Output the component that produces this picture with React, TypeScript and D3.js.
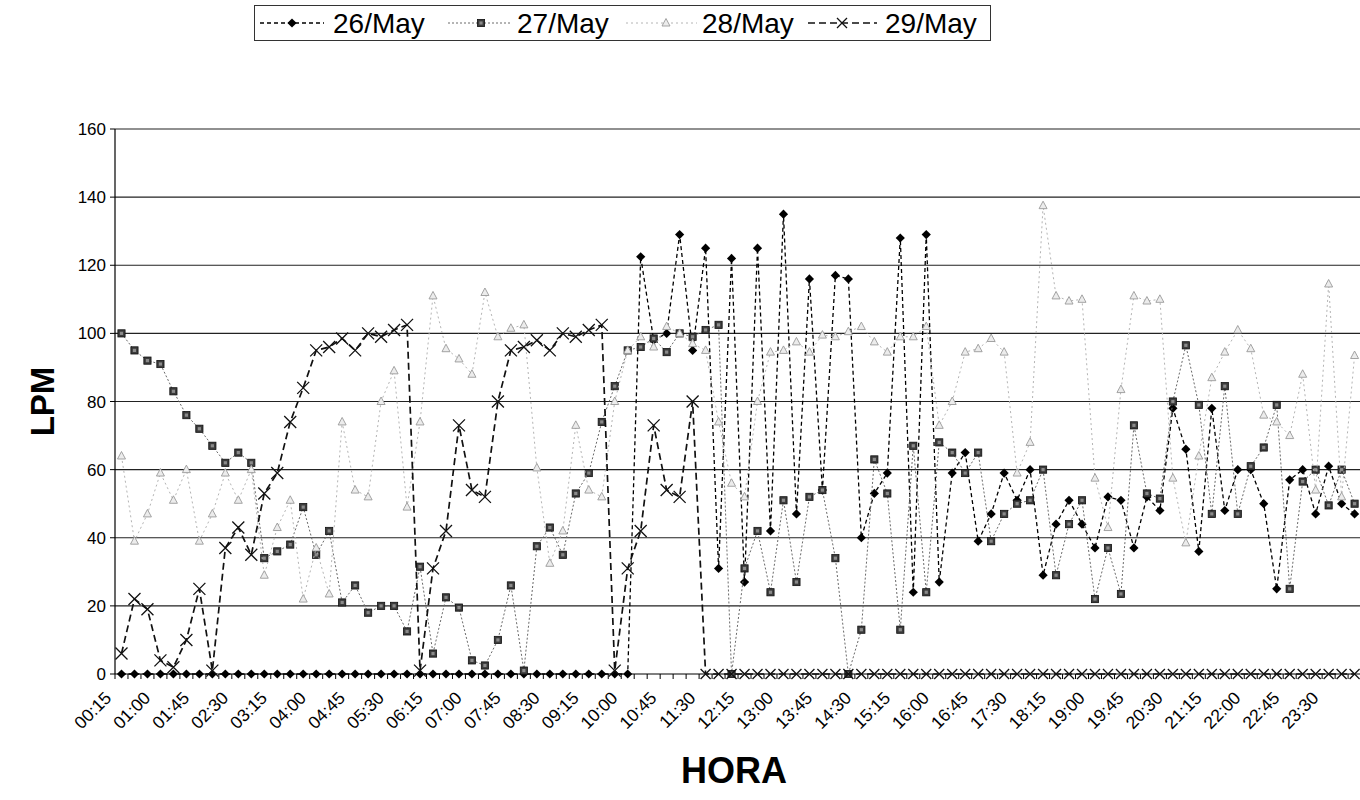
import * as d3 from "d3";

const WIDTH = 1360;
const HEIGHT = 800;
const PLOT = { left: 115, top: 129, bottom: 674, step: 12.98 };

const TIMES = [
  "00:15", "00:30", "00:45", "01:00", "01:15", "01:30", "01:45", "02:00", "02:15", "02:30", "02:45", "03:00",
  "03:15", "03:30", "03:45", "04:00", "04:15", "04:30", "04:45", "05:00", "05:15", "05:30", "05:45", "06:00",
  "06:15", "06:30", "06:45", "07:00", "07:15", "07:30", "07:45", "08:00", "08:15", "08:30", "08:45", "09:00",
  "09:15", "09:30", "09:45", "10:00", "10:15", "10:30", "10:45", "11:00", "11:15", "11:30", "11:45", "12:00",
  "12:15", "12:30", "12:45", "13:00", "13:15", "13:30", "13:45", "14:00", "14:15", "14:30", "14:45", "15:00",
  "15:15", "15:30", "15:45", "16:00", "16:15", "16:30", "16:45", "17:00", "17:15", "17:30", "17:45", "18:00",
  "18:15", "18:30", "18:45", "19:00", "19:15", "19:30", "19:45", "20:00", "20:15", "20:30", "20:45", "21:00",
  "21:15", "21:30", "21:45", "22:00", "22:15", "22:30", "22:45", "23:00", "23:15", "23:30", "23:45", "24:00",
];

// every third time slot gets a label
const TICK_LABELS = [
  "00:15", "01:00", "01:45", "02:30", "03:15", "04:00", "04:45", "05:30", "06:15", "07:00", "07:45",
  "08:30", "09:15", "10:00", "10:45", "11:30", "12:15", "13:00", "13:45", "14:30", "15:15", "16:00",
  "16:45", "17:30", "18:15", "19:00", "19:45", "20:30", "21:15", "22:00", "22:45", "23:30",
];

const Y_TICKS = [0, 20, 40, 60, 80, 100, 120, 140, 160];

const MAY26 = [
  0, 0, 0, 0, 0, 0, 0, 0, 0, 0, 0, 0, 0, 0, 0, 0, 0, 0, 0, 0,
  0, 0, 0, 0, 0, 0, 0, 0, 0, 0, 0, 0, 0, 0, 0, 0, 0, 0, 0, 0,
  122.5, 98, 100, 129, 95, 125, 31, 122, 27, 125, 42, 135, 47, 116, 54, 117, 116, 40, 53, 59,
  128, 24, 129, 27, 59, 65, 39, 47, 59, 51, 60, 29, 44, 51, 44, 37, 52, 51, 37, 52,
  48, 78, 66, 36, 78, 48, 60, 60, 50, 25, 57, 60, 47, 61, 50, 47,
];

const MAY27 = [
  100, 95, 92, 91, 83, 76, 72, 67, 62, 65, 62, 34, 36, 38, 49, 35, 42, 21, 26, 18, 20, 20,
  12.5, 31.5, 6, 22.5, 19.5, 4, 2.5, 10, 26, 1, 37.5, 43, 35, 53, 59, 74, 84.5, 95,
  96, 98.5, 94.5, 100, 99, 101, 102.5,
  0, 31, 42, 24, 51, 27, 52, 54, 34, 0, 13, 63, 53, 13, 67, 24, 68, 65, 59, 65, 39, 47, 50, 51,
  60, 29, 44, 51, 22, 37, 23.5, 73, 53, 51.5, 80, 96.5, 79, 47, 84.5, 47, 61, 66.5, 79, 25, 56.5, 60, 49.5, 60, 50,
];

const MAY28 = [
  64, 39, 47, 59, 51, 60, 39, 47, 59, 51, 60, 29, 43, 51, 22, 37, 23.5, 74, 54, 52, 80, 89,
  49, 74, 111, 95.5, 92.5, 88, 112, 99, 101.5, 102.5, 60.5, 32.5, 42, 73, 54, 52, 80, 95,
  99, 96, 102, 100, 97, 95, 74, 56, 52,
  80, 94.5, 95, 97.5, 94.5, 99.5, 99, 100.5, 102, 97.5, 94.5, 99, 99, 102, 73, 80, 94.5, 95.5, 98.5, 94.5, 59, 68,
  137.5, 111, 109.5, 110, 57.5, 43, 83.5, 111, 109.5, 110, 57.5, 38.5, 64, 87, 94.5, 101, 95.5, 76, 74, 70, 88, 54, 114.5, 52, 93.5,
];

const MAY29 = [
  6, 22, 19, 4, 2, 10, 25, 1, 37, 43, 35, 53, 59, 74, 84, 95, 96, 98.5, 95, 100, 99, 101, 102.5,
  1, 31, 42, 73, 54, 52, 80, 95, 96, 98, 95, 100, 99, 101, 102.5, 1, 31, 42, 73, 54, 52, 80,
  0, 0, 0, 0, 0, 0, 0, 0, 0, 0, 0, 0, 0, 0, 0, 0, 0, 0, 0, 0,
  0, 0, 0, 0, 0, 0, 0, 0, 0, 0, 0, 0, 0, 0, 0, 0, 0, 0, 0, 0,
  0, 0, 0, 0, 0, 0, 0, 0, 0, 0, 0,
];

type Marker = "diamond" | "square" | "triangle" | "cross";

const SERIES: {
  name: string;
  values: number[];
  stroke: string;
  width: number;
  dash: string;
  marker: Marker;
}[] = [
  { name: "26/May", values: MAY26, stroke: "#000", width: 1.3, dash: "4 3", marker: "diamond" },
  { name: "27/May", values: MAY27, stroke: "#6a6a6a", width: 1, dash: "2 2", marker: "square" },
  { name: "28/May", values: MAY28, stroke: "#b4b4b4", width: 1, dash: "2 3", marker: "triangle" },
  { name: "29/May", values: MAY29, stroke: "#111", width: 1.7, dash: "7 4", marker: "cross" },
];

// legend layout: line start/end, marker centre, text start
const LEGEND = [
  { x0: 260, x1: 324, mx: 292, tx: 333 },
  { x0: 448, x1: 512, mx: 481, tx: 517 },
  { x0: 626, x1: 697, mx: 666, tx: 702 },
  { x0: 808, x1: 877, mx: 842, tx: 885 },
];

const FONT = "'Liberation Sans', Arial, sans-serif";

function MarkerShape({ type, x, y, big }: { type: Marker; x: number; y: number; big?: boolean }) {
  if (type === "diamond") {
    const r = 4.6;
    return <path d={`M${x},${y - r}L${x + r},${y}L${x},${y + r}L${x - r},${y}Z`} fill="#000" />;
  }
  if (type === "square") {
    return (
      <g>
        <rect x={x - 3.6} y={y - 3.6} width={7.2} height={7.2} fill="#3c3c3c" stroke="#111" strokeWidth={0.8} />
        <rect x={x - 1.6} y={y - 1.6} width={3.2} height={3.2} fill="#8a8a8a" />
      </g>
    );
  }
  if (type === "triangle") {
    return (
      <path
        d={`M${x},${y - 4.5}L${x + 4},${y + 3}L${x - 4},${y + 3}Z`}
        fill="#ececec"
        stroke="#9a9a9a"
        strokeWidth={0.9}
      />
    );
  }
  const r = big ? 6 : 5;
  return (
    <path
      d={`M${x - r},${y - r}L${x + r},${y + r}M${x + r},${y - r}L${x - r},${y + r}`}
      stroke="#111"
      strokeWidth={1.3}
      fill="none"
    />
  );
}

export default function App() {
  const x = d3
    .scaleBand<number>()
    .domain(TIMES.map((_, i) => i))
    .range([PLOT.left, PLOT.left + TIMES.length * PLOT.step]);
  const cx = (i: number) => (x(i) ?? 0) + x.bandwidth() / 2;

  const y = d3.scaleLinear().domain([0, 160]).range([PLOT.bottom, PLOT.top]);

  const line = d3
    .line<number>()
    .x((_, i) => cx(i))
    .y((d) => y(d));

  const plotRight = PLOT.left + TIMES.length * PLOT.step;

  return (
    <svg
      width={WIDTH}
      height={HEIGHT}
      viewBox={`0 0 ${WIDTH} ${HEIGHT}`}
      style={{ position: "absolute", left: 0, top: 0, background: "#fff" }}
      fontFamily={FONT}
    >
      {/* gridlines */}
      {Y_TICKS.filter((t) => t > 0).map((t) => (
        <line key={t} x1={PLOT.left} x2={plotRight} y1={y(t)} y2={y(t)} stroke="#222" strokeWidth={1.1} />
      ))}

      {/* y axis */}
      <line x1={PLOT.left} x2={PLOT.left} y1={PLOT.top} y2={PLOT.bottom} stroke="#000" strokeWidth={1.2} />
      {Y_TICKS.map((t) => (
        <g key={`yt-${t}`}>
          <line x1={PLOT.left - 5} x2={PLOT.left} y1={y(t)} y2={y(t)} stroke="#000" />
          <text x={PLOT.left - 9} y={y(t) + 6} textAnchor="end" fontSize={17} fill="#000">
            {t}
          </text>
        </g>
      ))}

      {/* x axis */}
      <line x1={PLOT.left} x2={plotRight} y1={PLOT.bottom} y2={PLOT.bottom} stroke="#000" strokeWidth={1.2} />
      {TIMES.map((_, i) => (
        <line
          key={`xt-${i}`}
          x1={x(i) ?? 0}
          x2={x(i) ?? 0}
          y1={PLOT.bottom}
          y2={PLOT.bottom + 5}
          stroke="#000"
        />
      ))}
      {TICK_LABELS.map((label) => {
        const i = TIMES.indexOf(label);
        const tx = cx(i) - 9;
        const ty = PLOT.bottom + 25;
        return (
          <text
            key={`xl-${label}`}
            x={tx}
            y={ty}
            textAnchor="end"
            fontSize={17.5}
            fill="#000"
            transform={`rotate(-45 ${tx} ${ty})`}
          >
            {label}
          </text>
        );
      })}

      {/* series */}
      {SERIES.map((s) => (
        <g key={s.name}>
          <path
            d={line(s.values) ?? ""}
            fill="none"
            stroke={s.stroke}
            strokeWidth={s.width}
            strokeDasharray={s.dash}
          />
          {s.values.map((v, i) => (
            <MarkerShape key={i} type={s.marker} x={cx(i)} y={y(v)} big={s.marker === "cross" && v > 0} />
          ))}
        </g>
      ))}

      {/* axis titles */}
      <text
        x={54}
        y={(PLOT.top + PLOT.bottom) / 2}
        textAnchor="middle"
        fontSize={33}
        fontWeight="bold"
        transform={`rotate(-90 54 ${(PLOT.top + PLOT.bottom) / 2})`}
      >
        LPM
      </text>
      <text x={734} y={783} textAnchor="middle" fontSize={36} fontWeight="bold">
        HORA
      </text>

      {/* legend */}
      <rect x={254.5} y={5.5} width={736} height={35} fill="#fff" stroke="#333" strokeWidth={1} />
      {SERIES.map((s, k) => {
        const L = LEGEND[k];
        return (
          <g key={`lg-${s.name}`}>
            <line
              x1={L.x0}
              x2={L.x1}
              y1={23}
              y2={23}
              stroke={s.stroke}
              strokeWidth={s.width}
              strokeDasharray={s.dash}
            />
            <MarkerShape type={s.marker} x={L.mx} y={23} />
            <text x={L.tx} y={33} fontSize={28} fill="#000">
              {s.name}
            </text>
          </g>
        );
      })}
    </svg>
  );
}
